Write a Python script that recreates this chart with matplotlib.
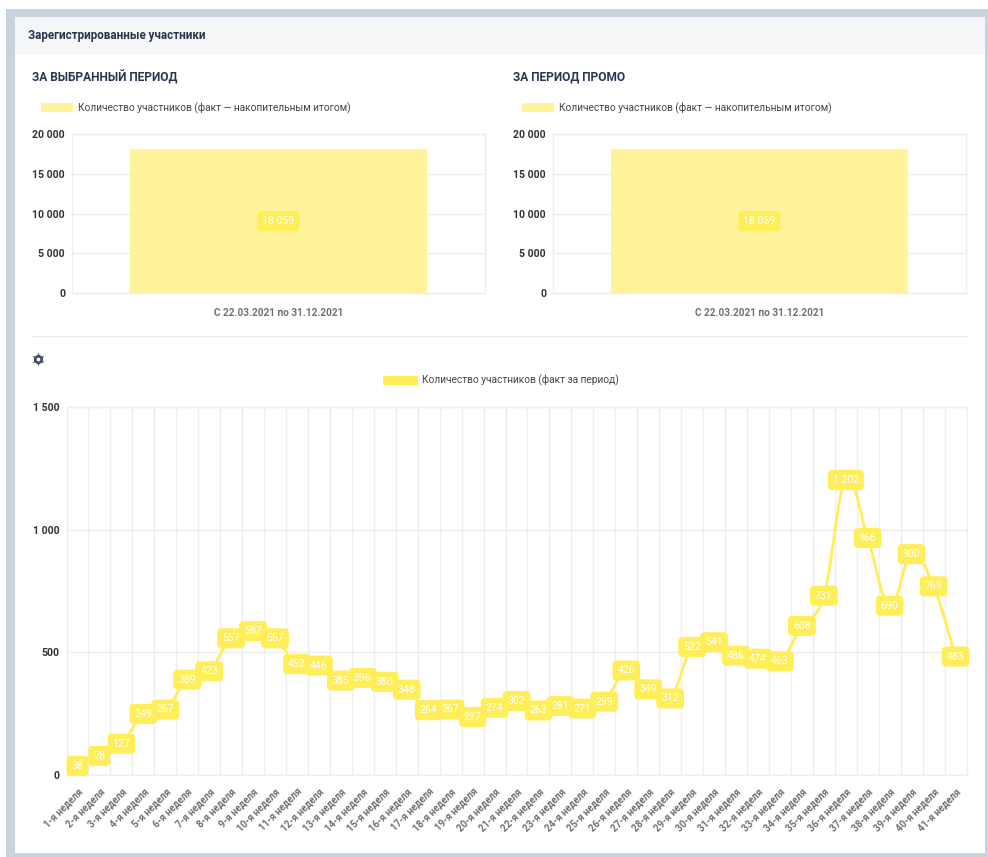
import numpy as np
import matplotlib
matplotlib.use("Agg")
import matplotlib.pyplot as plt
from matplotlib.patches import Rectangle, PathPatch
from matplotlib.path import Path
from matplotlib.ticker import FuncFormatter

plt.rcParams['font.family'] = ['Roboto', 'DejaVu Sans']

# data
period_label = "С 22.03.2021 по 31.12.2021"
total_selected = [18059]
total_promo = [18059]
legend_total = "Количество участников (факт — накопительным итогом)"
legend_weekly = "Количество участников (факт за период)"
weekly = [38, 78, 127, 249, 267, 389, 423, 557, 587, 557, 452, 446, 385, 396,
          380, 348, 264, 267, 237, 274, 302, 263, 281, 271, 299, 426, 349, 312,
          522, 541, 486, 474, 463, 608, 731, 1202, 966, 690, 900, 769, 483]
weeks = [f"{i}-я неделя" for i in range(1, 42)]

W, H = 988, 857
DARK = "#2a3450"
GRID = "#eeeeef"
BAR = "#fff49a"
LINE = "#ffee58"


def spaced(v, pos=None):
    return f"{int(v):,}".replace(",", " ")


def px_axes(fig, x0, y0, x1, y1):
    # pixel box, y measured from the top of the image
    return fig.add_axes([x0 / W, 1 - y1 / H, (x1 - x0) / W, (y1 - y0) / H])


def style_axes(ax):
    for s in ax.spines.values():
        s.set_color(GRID)
        s.set_linewidth(1)
    ax.set_axisbelow(True)
    ax.tick_params(axis="both", which="both", length=0)
    ax.yaxis.set_major_formatter(FuncFormatter(spaced))
    for t in ax.get_yticklabels():
        t.set_fontsize(7.6)
        t.set_fontweight("bold")
        t.set_color("#333333")
    ax.tick_params(axis="y", pad=5)


def value_box(ax, x, y, text, size=7.6):
    ax.text(x, y, text, ha="center", va="center", color="white", fontsize=size,
            zorder=5, clip_on=False,
            bbox=dict(boxstyle="round,pad=0.42,rounding_size=0.35", fc=LINE, ec=LINE, lw=0.8))


def smooth_path(xs, ys, t=0.2):
    # bezier through the points, like a tension line in the original dashboard
    pts = np.column_stack([xs, ys]).astype(float)
    verts = [pts[0]]
    codes = [Path.MOVETO]
    for i in range(len(pts) - 1):
        prev = pts[max(i - 1, 0)]
        nxt = pts[min(i + 2, len(pts) - 1)]
        verts += [pts[i] + t * (pts[i + 1] - prev), pts[i + 1] - t * (nxt - pts[i]), pts[i + 1]]
        codes += [Path.CURVE4] * 3
    return Path(verts, codes)


def total_chart(fig, x0, x1, values, title_x):
    ax = px_axes(fig, x0, 134, x1, 293)
    ax.bar([0], values, width=0.72, color=BAR, label=legend_total)
    ax.set_xlim(-0.5, 0.5)
    ax.set_ylim(0, 20000)
    ax.set_yticks([0, 5000, 10000, 15000, 20000])
    ax.set_xticks([0])
    ax.set_xticklabels([period_label], fontsize=7.2, fontweight="bold", color="#707070")
    ax.tick_params(axis="x", pad=11)
    ax.grid(axis="y", color=GRID, lw=1)
    style_axes(ax)
    value_box(ax, 0, values[0] / 2, spaced(values[0]))
    ax.legend(loc="center left", bbox_to_anchor=(-0.098, 1.163), frameon=False, fontsize=7.25,
              handlelength=3.25, handleheight=0.95, handletextpad=0.45, labelcolor="#444444")
    bg.text(title_x, 77, "ЗА ВЫБРАННЫЙ ПЕРИОД" if x0 < 400 else "ЗА ПЕРИОД ПРОМО", fontsize=8.6,
            fontweight="bold", color=DARK, va="center")
    return ax


fig = plt.figure(figsize=(W / 100, H / 100), dpi=100, facecolor="white")

# frame, header and other page furniture
bg = fig.add_axes([0, 0, 1, 1])
bg.set_xlim(0, W)
bg.set_ylim(H, 0)
bg.axis("off")
bg.add_patch(Rectangle((6, 9), 982, 848, fc="#c9d3e0", ec="none"))
bg.add_patch(Rectangle((15, 17), 970, 836, fc="white", ec="none"))
bg.add_patch(Rectangle((15, 17), 970, 37, fc="#f5f6f7", ec="none"))
bg.text(28, 35, "Зарегистрированные участники", fontsize=8.4, fontweight="bold", color=DARK, va="center")
bg.plot([32, 968], [336, 336], color="#ececee", lw=1)
# settings gear
bg.plot([38], [358.5], marker=(6, 1, 0), ms=9.5, color="#4a5060", mew=0)
bg.plot([38], [358.5], marker="o", ms=6.5, color="#4a5060", mew=0)
bg.plot([38], [358.5], marker="o", ms=2.6, color="white", mew=0)

total_chart(fig, 72, 485, total_selected, 32)
total_chart(fig, 553, 966, total_promo, 513)

# weekly line chart
ax = px_axes(fig, 66.5, 407, 966.5, 775)
x = np.arange(len(weekly))
ax.add_patch(PathPatch(smooth_path(x, weekly), fc="none", ec=LINE, lw=2, zorder=3))
ax.bar([0], [0], color=LINE, label=legend_weekly)
ax.set_xlim(-0.5, len(weekly) - 0.5)
ax.set_ylim(0, 1500)
ax.set_yticks([0, 500, 1000, 1500])
ax.set_xticks(x)
ax.set_xticklabels(weeks, rotation=45, ha="right", va="top", rotation_mode="anchor",
                   fontsize=7, fontweight="bold", color="#707070")
ax.set_xticks(x[:-1] + 0.5, minor=True)
ax.grid(axis="y", color=GRID, lw=1)
ax.grid(axis="x", which="minor", color=GRID, lw=1)
style_axes(ax)
ax.tick_params(axis="x", pad=8)
for xi, v in zip(x, weekly):
    value_box(ax, xi, v, spaced(v))
ax.legend(loc="center left", bbox_to_anchor=(0.3414, 1.072), frameon=False, fontsize=7.25,
          handlelength=3.45, handleheight=1.05, handletextpad=0.4, labelcolor="#444444")

fig.savefig("out.png", dpi=100)
